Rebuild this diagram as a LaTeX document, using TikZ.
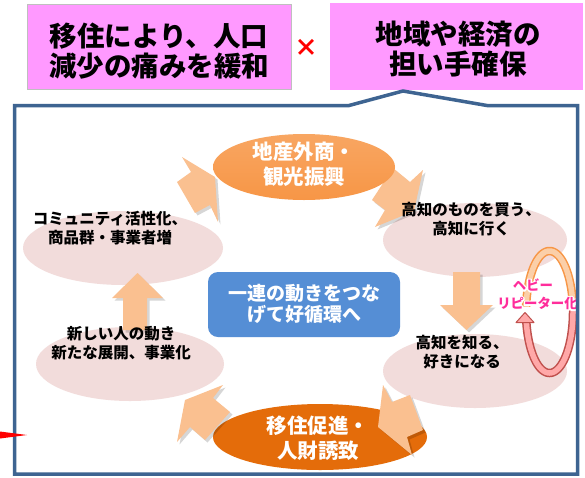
\documentclass[tikz,border=0pt]{standalone}
\usepackage{fontspec}
\setmainfont{Noto Sans CJK JP}
\usetikzlibrary{shapes.geometric}
\definecolor{boxpink}{HTML}{FF99FF}
\definecolor{ellpink}{HTML}{F2DCDB}
\definecolor{orlight}{HTML}{F79646}
\definecolor{ordark}{HTML}{E46C0A}
\definecolor{arrowc}{HTML}{FAC090}
\definecolor{bluebox}{HTML}{558ED5}
\definecolor{framec}{HTML}{3E6491}
\definecolor{ringor}{HTML}{F79646}
\definecolor{ringorf}{HTML}{FBCFA8}
\definecolor{ringred}{HTML}{C0504D}
\definecolor{ringpk}{HTML}{FFA8A8}
\definecolor{rtext}{HTML}{FF2D9B}
\newcommand\myarrow[1]{\fill[black,opacity=.16,shift={(2.5,2.5)}] #1; \fill[arrowc] #1;}
\newcommand\outlined[1]{\rlap{\textcolor{white}{\special{pdf:literal direct 1 Tr 3 w 1 J 1 j 1 1 1 RG}#1\special{pdf:literal direct 0 Tr}}}\textcolor{rtext}{#1}}
\begin{document}
\begin{tikzpicture}[x=1pt,y=-1pt,
  pinkell/.style={ellipse,fill=ellpink,inner sep=0pt},
  orell/.style={ellipse,inner sep=0pt},
  bodytxt/.style={align=center,inner sep=0pt,font=\bfseries\fontsize{15.5}{19.5}\selectfont},
  ortxt/.style={align=center,inner sep=0pt,text=white,font=\bfseries\fontsize{20.5}{25}\selectfont},
  toptxt/.style={align=center,inner sep=0pt,font=\bfseries\fontsize{27.5}{30}\selectfont},
  ringtxt/.style={inner sep=0pt,font=\bfseries\fontsize{13.4}{16}\selectfont}]
\useasboundingbox (0,0) rectangle (585,477);
\fill[white] (0,0) rectangle (585,477);

% top boxes
\node[draw=black!25,line width=1pt,fill=boxpink,minimum width=264pt,minimum height=85pt,inner sep=0pt] (b1) at (159,46.5) {};
\node[fill=boxpink,minimum width=253pt,minimum height=87pt,inner sep=0pt] (b2) at (456.5,46.5) {};
\node[toptxt] (tb1) at (159,51) {移住により、人口\\減少の痛みを緩和};
\node[toptxt] (tb2) at (458,49) {地域や経済の\\担い手確保};
\node[inner sep=0pt,text=red,font=\bfseries\fontsize{24}{24}\selectfont] (x) at (306,48) {×};

% pink ellipses
\node[pinkell,minimum width=200pt,minimum height=74pt] (e1) at (123,248) {};
\node[pinkell,minimum width=188pt,minimum height=74pt] (e2) at (130,364) {};
\node[pinkell,minimum width=184pt,minimum height=74pt] (e3) at (475,240) {};
\node[pinkell,minimum width=184pt,minimum height=74pt] (e4) at (475,371) {};

% bottom orange ellipse
\node[orell,fill=ordark,minimum width=214pt,minimum height=66pt] (e6) at (320,437) {};

% block arrows
\myarrow{(215,177) -- (182,157) -- (191,172) -- (177,182) -- (195,213) -- (210,205) -- (218,222) -- cycle}
\myarrow{(414,211) -- (375,227) -- (385,210) -- (372,200) -- (393,168) -- (410,182) -- (423,170) -- cycle}
\myarrow{(453,272) -- (480,272) -- (480,305) -- (493,305) -- (466.5,330) -- (440,305) -- (453,305) -- cycle}
\myarrow{(378,427) -- (383,385) -- (392,402) -- (410,395) -- (423,430) -- (407,437) -- (412,455) -- cycle}
\myarrow{(185,400) -- (223,385) -- (213,398) -- (230,412) -- (205,440) -- (190,427) -- (177,442) -- cycle}
\myarrow{(123,330) -- (123,298) -- (112,298) -- (137.5,273) -- (163,298) -- (147,298) -- (147,330) -- cycle}

% top orange ellipse
\node[orell,top color=orlight!85!white,bottom color=orlight,minimum width=182pt,minimum height=66pt] (e5) at (304,167) {};

% blue box
\node[fill=bluebox,rounded corners=10pt,minimum width=192pt,minimum height=65pt,inner sep=0pt] (bb) at (304,304.5) {};

% texts
\node[bodytxt] (t1) at (110,228) {コミュニティ活性化、\\商品群・事業者増};
\node[bodytxt] (t2) at (121,343) {新しい人の動き\\新たな展開、事業化};
\node[bodytxt] (t3) at (471,219) {高知のものを買う、\\高知に行く};
\node[bodytxt] (t4) at (462,352) {高知を知る、\\好きになる};
\node[ortxt] (t5) at (304,164) {地産外商・\\観光振興};
\node[ortxt] (t6) at (318,438.5) {移住促進・\\人財誘致};
\node[align=center,inner sep=0pt,text=white,font=\bfseries\fontsize{19}{21}\selectfont] (t7) at (304,304) {一連の動きをつな\\げて好循環へ};

% repeat ring
\draw[line width=8.5pt,ringor] plot[domain=185:355,samples=60] ({549.5+23.5*cos(\x)},{312+61*sin(\x)});
\draw[line width=5.5pt,ringorf] plot[domain=185:355,samples=60] ({549.5+23.5*cos(\x)},{312+61*sin(\x)});
\draw[line width=8.5pt,ringred] plot[domain=-5:170,samples=60] ({549.5+23.5*cos(\x)},{312+61*sin(\x)});
\draw[line width=5.5pt,ringpk] plot[domain=-5:170,samples=60] ({549.5+23.5*cos(\x)},{312+61*sin(\x)});
\filldraw[fill=ringpk,draw=ringred,line width=1pt,line join=round] (516,322.5) -- (525,312.5) -- (534,322.5) -- cycle;
\node[ringtxt] (r1) at (533,285) {\outlined{ヘビー}};
\node[ringtxt] (r2) at (537.5,303.5) {\outlined{リピーター化}};

% callout frame
\draw[framec,line width=3.5pt,line join=miter] (14.5,105.5) -- (349,105.5) -- (403,91) -- (487,105.5) -- (577.5,105.5) -- (577.5,474) -- (14.5,474) -- cycle;

% red pointer at left
\fill[red] (0,431.5) -- (27,435) -- (0,438.5) -- cycle;
\end{tikzpicture}
\end{document}
